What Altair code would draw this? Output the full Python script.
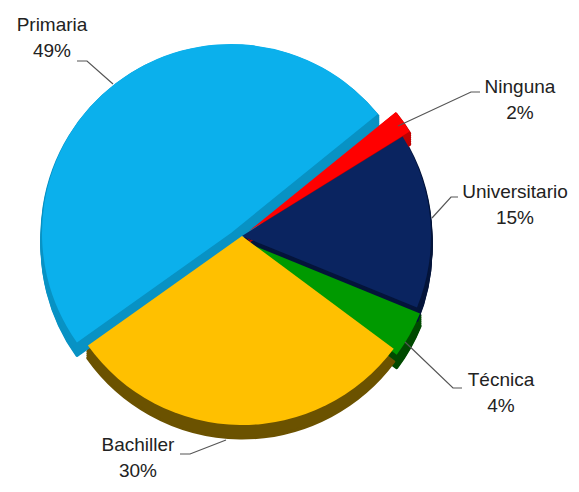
import math
import altair as alt
import pandas as pd

# ---- data ----
CATEGORIES = ["Ninguna", "Universitario", "Técnica", "Bachiller", "Primaria"]
PERCENT = [2, 15, 4, 30, 49]

# ---- styles / layout ----
TOP_COLORS = ["#FF0000", "#0A2460", "#009A00", "#FFC000", "#0BB0EC"]
SIDE_COLORS = ["#C00000", "#04143A", "#004A00", "#6B5200", "#0892C4"]
EXPLODE_DX = [7, 0, 3, 0, -11]
EXPLODE_DY = [-5, 0, 6, 0, -3]
LABEL_X = [512, 507, 493, 130, 44]
LABEL_Y = [79, 184, 372, 437, 17]
LEADER_X = [[472, 463, 390], [450, 443, 424], [454, 445, 397], [172, 182, 218], [69, 79, 105]]
LEADER_Y = [[84, 84, 118], [189, 189, 210], [380, 380, 334], [446, 446, 432], [53, 53, 76]]

W, H = 563, 476
CX, CY = 234, 228
R = 189
DEPTH = [2, 4, 6, 8, 10, 12, 13]
THETA0 = math.radians(51)

cum = 0
rows = []
for c, p in zip(CATEGORIES, PERCENT):
    rows.append({"cat": c, "pct": p, "start": cum, "end": cum + p})
    cum += p
df = pd.DataFrame(rows)

theta_scale = alt.Scale(domain=[0, 100], range=[THETA0, THETA0 + 2 * math.pi])
xs = alt.Scale(domain=[0, W], range=[0, W], nice=False, zero=False)
ys = alt.Scale(domain=[0, H], range=[0, H], nice=False, zero=False)


def arc_layer(i, color, dx, dy, stroke=False):
    d = df.iloc[[i]]
    kw = dict(radius=R, xOffset=dx, yOffset=dy, fill=color)
    if stroke:
        kw.update(stroke=color, strokeWidth=3, strokeJoin="round")
    else:
        kw.update(strokeWidth=0)
    return alt.Chart(d).mark_arc(**kw).encode(
        theta=alt.Theta("start:Q", scale=theta_scale),
        theta2="end:Q",
        x=alt.value(CX),
        y=alt.value(CY),
    )


layers = []
for d in DEPTH:
    for i in range(len(CATEGORIES)):
        layers.append(arc_layer(i, SIDE_COLORS[i], EXPLODE_DX[i], EXPLODE_DY[i] + d, stroke=True))
for i in range(len(CATEGORIES)):
    layers.append(arc_layer(i, TOP_COLORS[i], EXPLODE_DX[i], EXPLODE_DY[i]))

# leader lines
lrows = []
for i, c in enumerate(CATEGORIES):
    for k, (lx, ly) in enumerate(zip(LEADER_X[i], LEADER_Y[i])):
        lrows.append({"cat": c, "k": k, "x": lx, "y": ly})
ldf = pd.DataFrame(lrows)
leaders = alt.Chart(ldf).mark_line(color="#555555", strokeWidth=1.2).encode(
    x=alt.X("x:Q", scale=xs, axis=None),
    y=alt.Y("y:Q", scale=ys, axis=None),
    detail="cat:N",
    order="k:Q",
)

# labels
trows = []
for i, c in enumerate(CATEGORIES):
    trows.append({"t": c, "x": LABEL_X[i], "y": LABEL_Y[i]})
    trows.append({"t": f"{PERCENT[i]}%", "x": LABEL_X[i], "y": LABEL_Y[i] + 26})
tdf = pd.DataFrame(trows)
labels = alt.Chart(tdf).mark_text(
    font="Liberation Sans", fontSize=19, color="#222222", align="center", baseline="middle"
).encode(
    x=alt.X("x:Q", scale=xs, axis=None),
    y=alt.Y("y:Q", scale=ys, axis=None),
    text="t:N",
)

layers += [leaders, labels]

chart = alt.layer(*layers).properties(
    width=W, height=H, padding=0, autosize=alt.AutoSizeParams(type="none")
).configure_view(stroke=None)

chart.save("out.html", embed_options={"renderer": "svg", "actions": False})
